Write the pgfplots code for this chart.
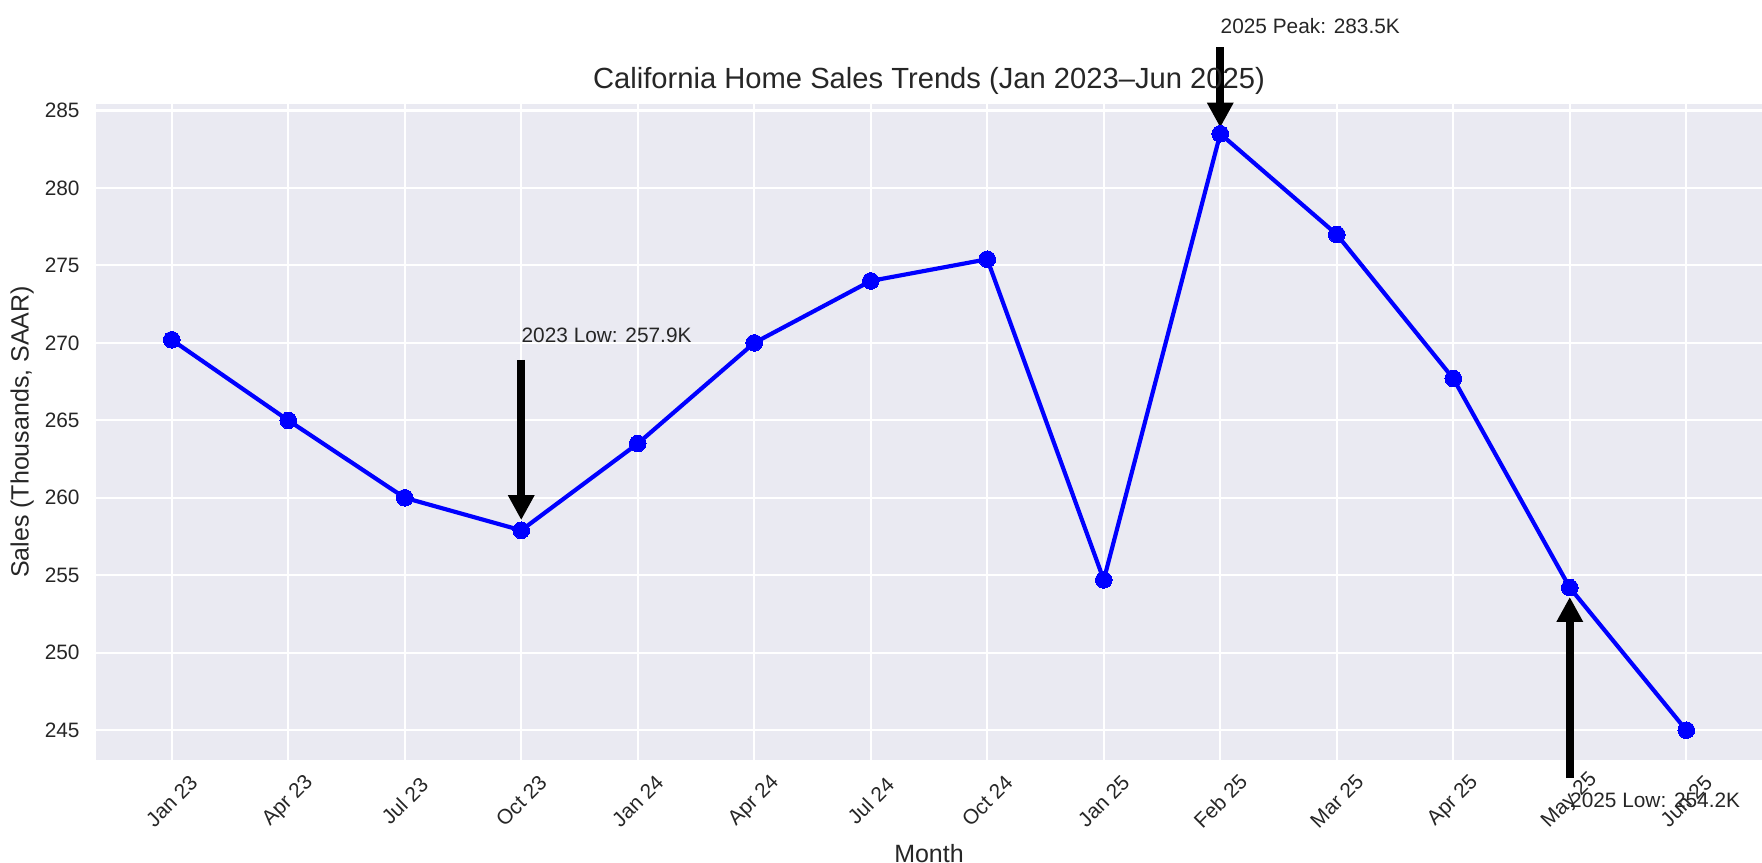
\documentclass[border=0pt]{standalone}
\usepackage{fontspec}
\setmainfont{Liberation Sans}
\usepackage{pgfplots}
\pgfplotsset{compat=1.18}
\usetikzlibrary{arrows.meta}
\definecolor{bgc}{HTML}{EAEAF2}
\definecolor{txt}{HTML}{262626}
\begin{document}
\begin{tikzpicture}
\begin{axis}[
  at={(0,0)}, anchor=south west,
  scale only axis, width=799.7pt, height=314.9pt,
  xmin=-0.65, xmax=13.65, ymin=243.075, ymax=285.425,
  axis background/.style={fill=bgc},
  axis line style={draw=none},
  grid=major, major grid style={white, line width=1pt},
  major tick length=0pt,
  xtick={0,...,13},
  xticklabels={Jan 23,Apr 23,Jul 23,Oct 23,Jan 24,Apr 24,Jul 24,Oct 24,Jan 25,Feb 25,Mar 25,Apr 25,May 25,Jun 25},
  ytick={245,250,...,285},
  /pgf/number format/assume math mode=true,
  tick label style={font=\fontsize{10}{12}\selectfont, text=txt},
  xticklabel style={anchor=center, yshift=-19.7pt, rotate=45, inner sep=0pt},
  yticklabel style={anchor=east, inner sep=0pt, xshift=-7.7pt},
  title={California Home Sales Trends (Jan 2023–Jun 2025)},
  every axis title/.style={at={(axis description cs:0.5,1)}, anchor=base, yshift=7.6pt, font=\fontsize{14}{17}\selectfont, text=txt},
  xlabel={Month}, ylabel={Sales (Thousands, SAAR)},
  every axis x label/.style={at={(axis description cs:0.5,0)}, anchor=base, yshift=-49.2pt, font=\fontsize{12}{14}\selectfont, text=txt},
  every axis y label/.style={at={(axis description cs:0,0.5)}, xshift=-35.5pt, rotate=90, anchor=center, font=\fontsize{12}{14}\selectfont, text=txt},
  clip=false,
]
\addplot[blue, line width=2pt, mark=*, mark size=4pt, mark options={fill=blue, draw=blue, line width=0pt}] coordinates {
(0,270.2)(1,265.0)(2,260.0)(3,257.9)(4,263.5)(5,270.0)(6,274.0)(7,275.4)(8,254.7)(9,283.5)(10,277.0)(11,267.7)(12,254.2)(13,245.0)};
\draw[black, line width=4pt, -{Triangle[width=12pt,length=12pt]}] (axis cs:3,268.9) -- (axis cs:3,258.56);
\draw[black, line width=4pt, -{Triangle[width=12pt,length=12pt]}] (axis cs:9,289.1) -- (axis cs:9,283.9);
\draw[black, line width=4pt, -{Triangle[width=12pt,length=12pt]}] (axis cs:12,241.9) -- (axis cs:12,253.6);
\node[anchor=base west, inner sep=0pt, text=txt, font=\fontsize{10}{12}\selectfont] at (axis cs:3,270) {2023 Low: 257.9K};
\node[anchor=base west, inner sep=0pt, text=txt, font=\fontsize{10}{12}\selectfont] at (axis cs:9,290) {2025 Peak: 283.5K};
\node[anchor=base west, inner sep=0pt, text=txt, font=\fontsize{10}{12}\selectfont] at (axis cs:12,240) {2025 Low: 254.2K};
\end{axis}
\pgfresetboundingbox
\path (-46.08pt,-49.44pt) rectangle (799.7pt,364.8pt);
\end{tikzpicture}
\end{document}
